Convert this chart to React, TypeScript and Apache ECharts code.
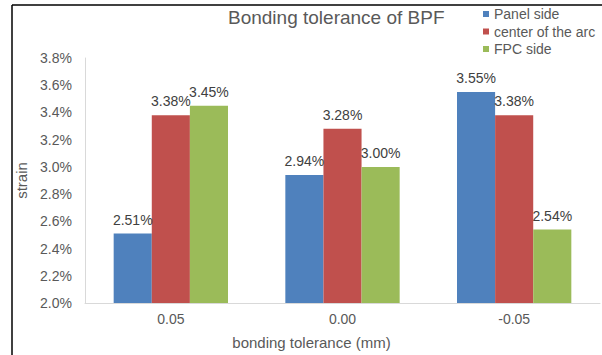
import React, { useEffect, useRef } from "react";
import * as echarts from "echarts";

const categories = ["0.05", "0.00", "-0.05"];
const panelSide = [2.51, 2.94, 3.55];
const centerOfArc = [3.38, 3.28, 3.38];
const fpcSide = [3.45, 3.0, 2.54];
const seriesNames = ["Panel side", "center of the arc", "FPC side"];
const colors = ["#4F81BD", "#C0504D", "#9BBB59"];

const FONT = "Liberation Sans, Arial, sans-serif";

export default function App() {
  const ref = useRef<HTMLDivElement>(null);

  useEffect(() => {
    if (!ref.current) return;
    const chart = echarts.init(ref.current, undefined, { renderer: "svg" });
    const values = [panelSide, centerOfArc, fpcSide];

    chart.setOption({
      animation: false,
      textStyle: { fontFamily: FONT },
      title: {
        text: "Bonding tolerance of BPF",
        left: 228,
        top: 8,
        padding: 0,
        textStyle: { fontFamily: FONT, fontSize: 19, fontWeight: "normal", color: "#595959" },
      },
      legend: {
        orient: "vertical",
        left: 483,
        top: 7,
        padding: 0,
        itemWidth: 6,
        itemHeight: 6,
        itemGap: 3.5,
        icon: "rect",
        data: seriesNames,
        textStyle: { fontFamily: FONT, fontSize: 14, color: "#595959" },
      },
      graphic: [
        { type: "line", shape: { x1: 12, y1: 5, x2: 602, y2: 5 }, style: { stroke: "#000", lineWidth: 1.5 } },
        { type: "line", shape: { x1: 12, y1: 5, x2: 12, y2: 355 }, style: { stroke: "#000", lineWidth: 1.5 } },
      ],
      grid: { left: 85, right: 2, top: 58, bottom: 44 },
      xAxis: {
        type: "category",
        data: categories,
        name: "bonding tolerance (mm)",
        nameLocation: "middle",
        nameGap: 32,
        nameTextStyle: { fontFamily: FONT, fontSize: 15, color: "#595959", padding: [0, 62, 0, 0] },
        axisLine: { lineStyle: { color: "#D9D9D9", width: 1 } },
        axisTick: { show: false },
        axisLabel: { fontFamily: FONT, fontSize: 14, color: "#595959", margin: 9 },
      },
      yAxis: {
        type: "value",
        min: 2.0,
        max: 3.8,
        interval: 0.2,
        name: "strain",
        nameLocation: "middle",
        nameGap: 54,
        nameTextStyle: { fontFamily: FONT, fontSize: 15, color: "#595959" },
        axisLine: { show: true, lineStyle: { color: "#D9D9D9", width: 1 } },
        axisTick: { show: false },
        splitLine: { show: false },
        axisLabel: {
          fontFamily: FONT,
          fontSize: 14,
          color: "#595959",
          margin: 13,
          formatter: (v: number) => v.toFixed(1) + "%",
        },
      },
      series: seriesNames.map((name, i) => ({
        name,
        type: "bar",
        data: values[i],
        barGap: "0%",
        barCategoryGap: "33.4%",
        itemStyle: { color: colors[i] },
        label: {
          show: true,
          position: "top",
          distance: 7,
          fontFamily: FONT,
          fontSize: 14,
          color: "#404040",
          formatter: (p: any) => Number(p.value).toFixed(2) + "%",
        },
      })),
    });

    return () => chart.dispose();
  }, []);

  return (
    <div
      ref={ref}
      style={{ position: "absolute", left: 0, top: 0, width: 602, height: 355, background: "#fff" }}
    />
  );
}
